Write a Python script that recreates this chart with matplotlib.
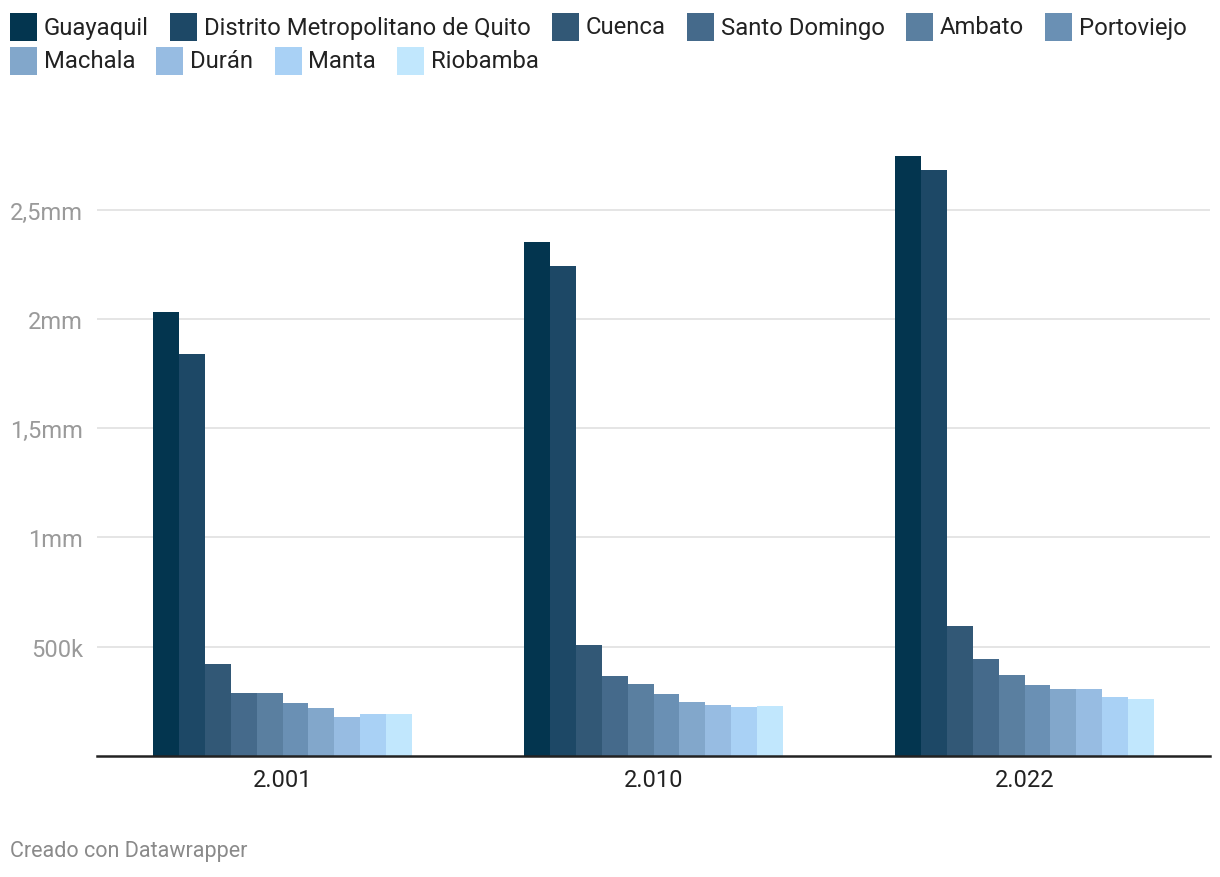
import matplotlib.pyplot as plt
import numpy as np
from matplotlib.patches import Rectangle

plt.rcParams['font.family'] = ['Roboto', 'DejaVu Sans']

# data
years = ['2.001', '2.010', '2.022']
cities = ['Guayaquil', 'Distrito Metropolitano de Quito', 'Cuenca', 'Santo Domingo',
          'Ambato', 'Portoviejo', 'Machala', 'Durán', 'Manta', 'Riobamba']
pop_2001 = [2031000, 1839000, 421000, 288000, 288000, 242000, 220000, 178000, 192000, 192000]
pop_2010 = [2351000, 2242000, 508000, 366000, 329000, 284000, 247000, 233000, 224000, 229000]
pop_2022 = [2745000, 2681000, 595000, 444000, 371000, 325000, 306000, 306000, 270000, 261000]
yticks = [500000, 1000000, 1500000, 2000000, 2500000]
ytick_labels = ['500k', '1mm', '1,5mm', '2mm', '2,5mm']

farben = ['#03354f', '#1d4866', '#325876', '#456a8b', '#5a7fa0',
          '#6a90b4', '#82a7cb', '#97bce2', '#a9d1f5', '#c1e7fd']

W, H = 1220, 878
fig = plt.figure(figsize=(W / 100, H / 100), dpi=100)
# axes placed in pixel terms
ax = fig.add_axes([97 / W, 121 / H, (1210 - 97) / W, 612 / H])

values = np.array([pop_2001, pop_2010, pop_2022])  # years x cities
x = np.arange(len(years))
bw = 0.07
n = len(cities)
for i in range(n):
    ax.bar(x + (i - (n - 1) / 2) * bw, values[:, i], width=bw, color=farben[i],
           linewidth=0, zorder=3)

ax.set_xlim(-0.5, 2.5)
ax.set_ylim(0, 2800000)
ax.set_yticks(yticks)
ax.set_yticklabels(ytick_labels)
ax.set_xticks(x)
ax.set_xticklabels(years)
ax.grid(axis='y', color='#e3e3e3', linewidth=1.3, zorder=0)
ax.tick_params(axis='y', length=0, pad=10, labelsize=17, labelcolor='#9a9a9a')
ax.tick_params(axis='x', length=0, pad=9, labelsize=17, labelcolor='#222222')
for s in ['top', 'right', 'left']:
    ax.spines[s].set_visible(False)
ax.spines['bottom'].set_color('#222222')
ax.spines['bottom'].set_linewidth(1.8)
ax.spines['bottom'].set_zorder(4)

# flowing legend across the top, like datawrapper does it
fig.canvas.draw()
renderer = fig.canvas.get_renderer()
px, row_top = 10, 14
row_h = 34
sq_w, sq_h = 27, 28
for name, col in zip(cities, farben):
    t = fig.text(0, 0, name, fontsize=17.2, color='#222222', va='center', ha='left')
    tw = t.get_window_extent(renderer).width
    if px + 35 + tw > 1212:
        px = 10
        row_top += row_h
    fig.patches.append(Rectangle((px / W, 1 - (row_top + sq_h) / H), sq_w / W, sq_h / H,
                                 transform=fig.transFigure, color=col, linewidth=0))
    t.set_position(((px + 34) / W, 1 - (row_top + sq_h / 2) / H))
    px += 34 + tw + 21

fig.text(10 / W, 1 - 852 / H, 'Creado con Datawrapper', fontsize=15.5, color='#8a8a8a',
         va='center', ha='left')

fig.savefig('out.png', dpi=100, facecolor='white')
